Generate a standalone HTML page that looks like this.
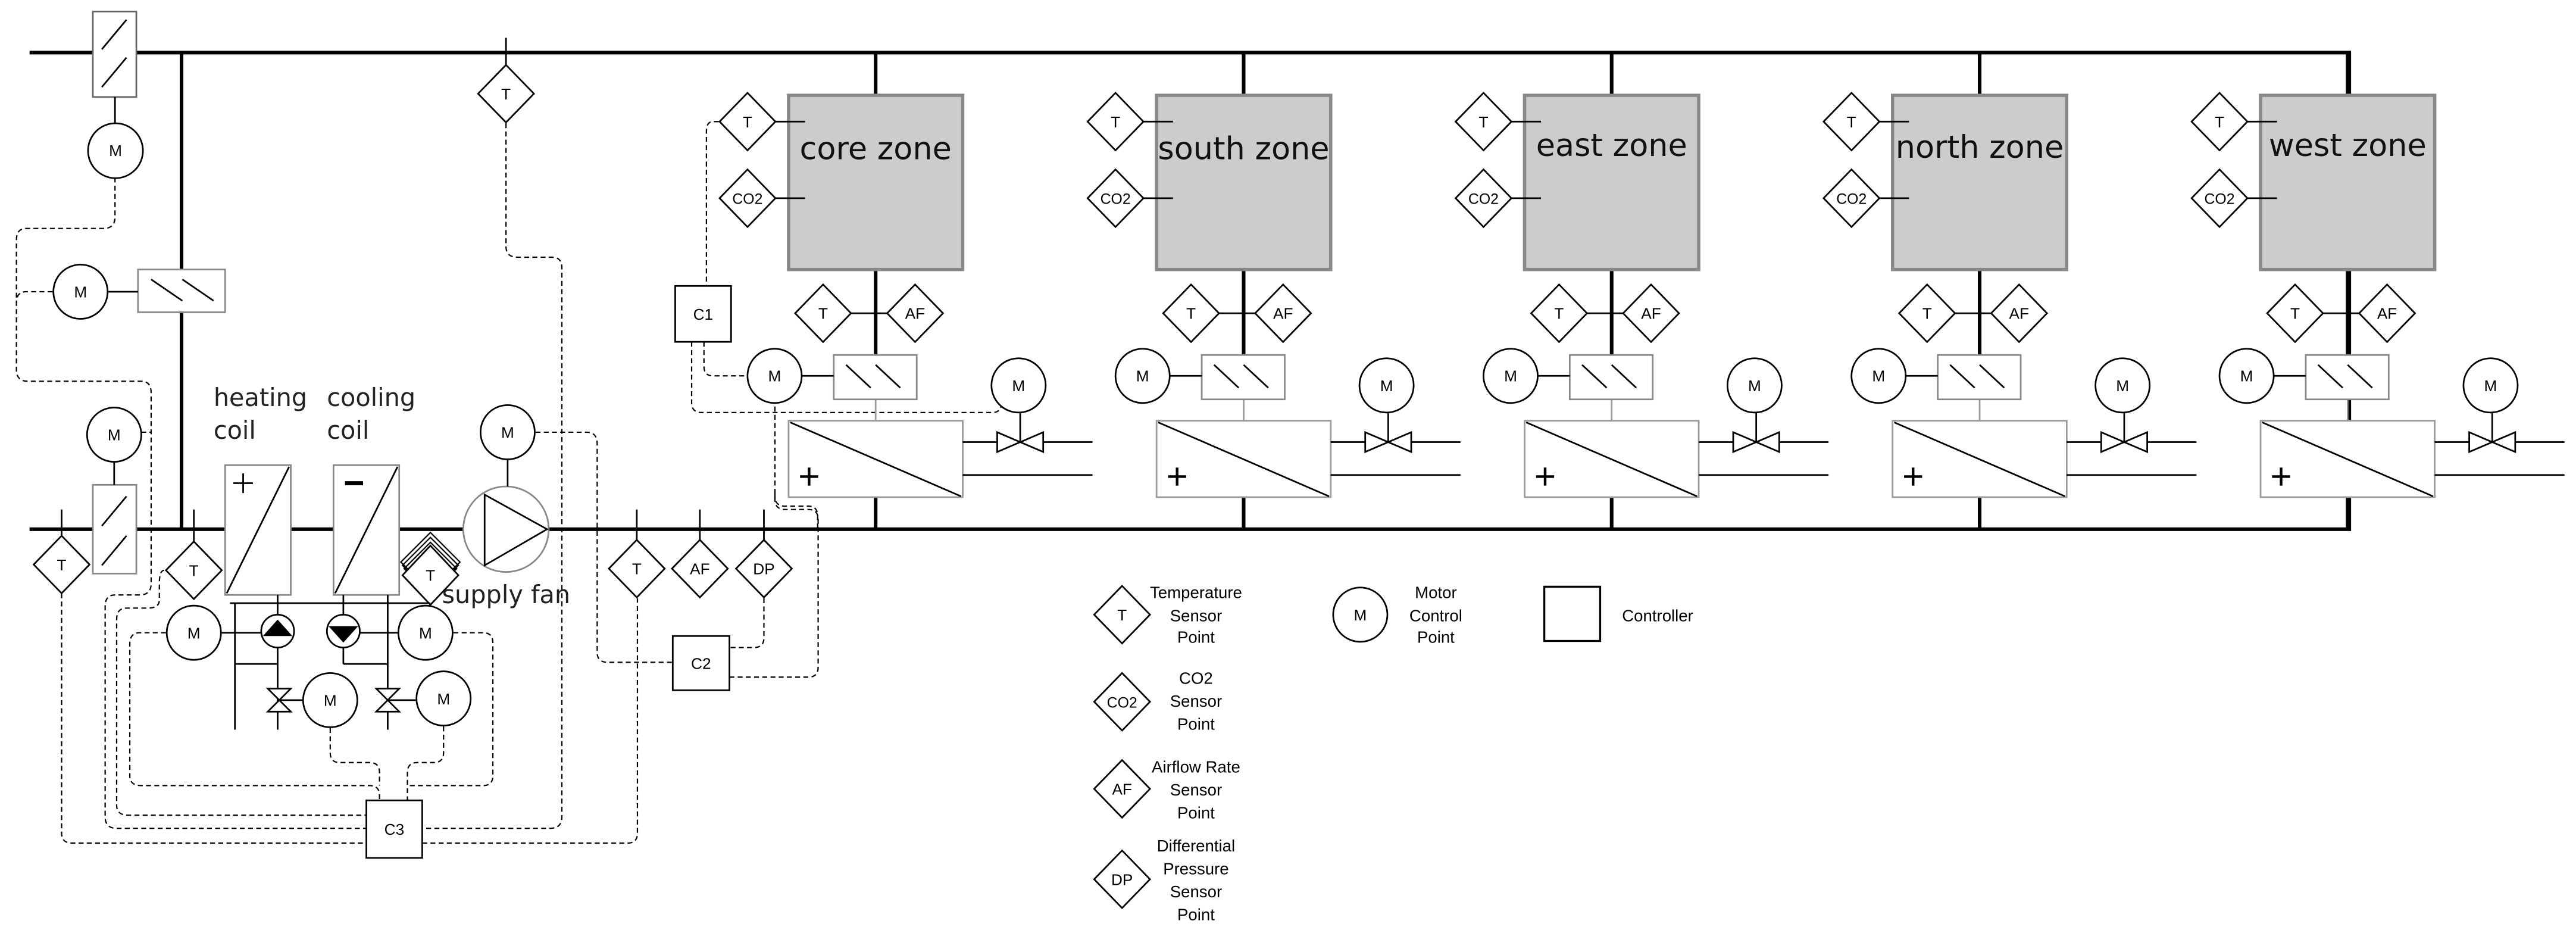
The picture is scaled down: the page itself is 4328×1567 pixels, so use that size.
<!DOCTYPE html>
<html><head><meta charset="utf-8"><style>html,body{margin:0;padding:0;background:#fff}svg{display:block}</style></head>
<body>
<svg xmlns="http://www.w3.org/2000/svg" width="4328" height="1567" viewBox="0 0 1568 567.7" preserveAspectRatio="none">
<defs>
<g id="dia"><polygon points="0,-17.5 17,0 0,17.5 -17,0" fill="#fff" stroke="#000" stroke-width="1"/></g>
</defs>
<style>
text{font-family:"Liberation Sans",sans-serif;fill:#000}
.s{font-size:9.5px;text-anchor:middle}
.z{font-family:"DejaVu Sans","Liberation Sans",sans-serif;font-size:19px;text-anchor:middle;fill:#111}
.d{fill:none;stroke:#000;stroke-width:0.8;stroke-dasharray:3,2}
.l{stroke:#000;fill:none;stroke-width:1}
.lg{font-family:"Liberation Sans Narrow","Liberation Sans",sans-serif;font-size:10px;text-anchor:middle}
</style>
<rect width="1568" height="568" fill="#fff"/>
<!-- ducts -->
<path d="M18,32 H1430 V322 H18" fill="none" stroke="#000" stroke-width="2.2"/>
<line x1="110.5" y1="32" x2="110.5" y2="322" stroke="#000" stroke-width="2.2"/>

<!-- dashed control lines -->
<path class="d" d="M70,108 V132 Q70,139 63,139 H16 Q10,139 10,146 V225 Q10,232 17,232 H86 Q92,232 92,239 V355 Q92,362 85,362 H70 Q64,362 64,369 V497 Q64,504 71,504 H223"/>
<path class="d" d="M32,177.5 H16 Q10,177.5 10,184"/>
<path class="d" d="M86,263 H92"/>
<path class="d" d="M100,347 Q97,347 97,355 V365 Q97,370 90,370 H77 Q71,370 71,377 V490 Q71,496 78,496 H223"/>
<path class="d" d="M101,385 H85 Q79,385 79,392 V472 Q79,478 86,478 H225 Q231,478 231,484 V487"/>
<path class="d" d="M201,443 V458 Q201,464 207,464 H225 Q231,464 231,470 V478"/>
<path class="d" d="M270,442 V458 Q270,464 264,464 H254 Q248,464 248,470 V487"/>
<path class="d" d="M276,385 H294 Q300,385 300,391 V472 Q300,478 294,478 H248"/>
<path class="d" d="M37.5,361 V507 Q37.5,513 44,513 H223 M257,513 H382 Q388,513 388,507 V364"/>
<path class="d" d="M308,75 V150 Q308,156.5 315,156.5 H336 Q342,156.5 342,163 V497 Q342,504 335,504 H257"/>
<path class="d" d="M326,263 H357 Q363.5,263 363.5,270 V397 Q363.5,403 370,403 H409"/>
<path class="d" d="M465,364 V388 Q465,394 459,394 H444"/>
<path class="d" d="M444,412 H492 Q498,412 498,406 V316 Q498,310 492,310 H478 Q471.7,310 471.7,304 V245"/>
<path class="d" d="M471.7,300 V302 Q471.7,308 478,308 H492 Q497.7,308 497.7,314 V322"/>
<path class="d" d="M437.5,74 H434 Q430,74 430,80 V174"/>
<path class="d" d="M428.5,208 V223 Q428.5,228.7 434,228.7 H455"/>
<path class="d" d="M421,208 V245 Q421,251 427,251 H604 Q609.6,251 609.6,245 V240 Q609.6,234.5 615,234.5 H603"/>

<!-- left dampers -->
<rect x="56.5" y="7" width="26.5" height="52" fill="#fff" stroke="#666" stroke-width="1"/>
<line class="l" x1="62" y1="30" x2="77" y2="12"/><line class="l" x1="62" y1="53" x2="77" y2="35"/>
<line class="l" x1="70" y1="59" x2="70" y2="75"/>
<circle cx="70.3" cy="91.7" r="16.7" fill="#fff" stroke="#000"/><text class="s" x="70.3" y="95">M</text>

<rect x="84" y="164" width="53" height="26" fill="#fff" stroke="#888" stroke-width="1"/>
<line class="l" x1="92" y1="170" x2="111" y2="183"/><line class="l" x1="111" y1="170" x2="130" y2="183"/>
<line class="l" x1="66" y1="177.5" x2="84" y2="177.5"/>
<circle cx="49" cy="177.5" r="16.5" fill="#fff" stroke="#000"/><text class="s" x="49" y="181">M</text>

<rect x="56.5" y="295" width="26.5" height="54" fill="#fff" stroke="#888" stroke-width="1"/>
<line class="l" x1="62" y1="320" x2="77" y2="302"/><line class="l" x1="62" y1="344" x2="77" y2="326"/>
<line class="l" x1="69.5" y1="281" x2="69.5" y2="295"/>
<circle cx="69.5" cy="264.5" r="16.5" fill="#fff" stroke="#000"/><text class="s" x="69.5" y="268">M</text>

<!-- left T sensors -->
<line class="l" x1="37.5" y1="310" x2="37.5" y2="326"/>
<use href="#dia" x="37.5" y="343.5"/><text class="s" x="37.5" y="347">T</text>
<line class="l" x1="118" y1="310" x2="118" y2="330"/>
<use href="#dia" x="118" y="347"/><text class="s" x="118" y="350.5">T</text>

<!-- coils -->
<text x="130" y="247" style="font-family:'DejaVu Sans',sans-serif;font-size:15px;fill:#222">heating</text>
<text x="130" y="267" style="font-family:'DejaVu Sans',sans-serif;font-size:15px;fill:#222">coil</text>
<text x="199" y="247" style="font-family:'DejaVu Sans',sans-serif;font-size:15px;fill:#222">cooling</text>
<text x="199" y="267" style="font-family:'DejaVu Sans',sans-serif;font-size:15px;fill:#222">coil</text>
<rect x="137" y="283" width="40" height="79" fill="#fff" stroke="#888" stroke-width="1"/>
<line class="l" x1="138" y1="361" x2="176" y2="284"/>
<path class="l" d="M142,294 H154 M148,288 V300" stroke-width="1.5"/>
<rect x="203" y="283" width="40" height="79" fill="#fff" stroke="#888" stroke-width="1"/>
<line class="l" x1="204" y1="361" x2="242" y2="284"/>
<line x1="210" y1="294" x2="221" y2="294" stroke="#000" stroke-width="2.5"/>

<!-- hatched T -->
<g fill="none" stroke="#000" stroke-width="0.8">
<polygon points="262,324 280,342 262,360 244,342"/>
<polygon points="262,327 279,344 262,361 245,344"/>
<polygon points="262,330 278,346 262,362 246,346"/>
</g>
<polygon points="262,332 279,350 262,368 245,350" fill="#fff" stroke="#000"/>
<text class="s" x="262" y="353.5">T</text>

<!-- supply fan -->
<circle cx="308" cy="322" r="26" fill="#fff" stroke="#888" stroke-width="1"/>
<polygon points="295,301 295,344 333,322" fill="none" stroke="#000"/>
<line class="l" x1="309" y1="280" x2="309" y2="296"/>
<circle cx="309" cy="263" r="16.5" fill="#fff" stroke="#000"/><text class="s" x="309" y="266.5">M</text>
<text x="269" y="367" style="font-family:'DejaVu Sans',sans-serif;font-size:15px;fill:#222">supply fan</text>
<line class="l" x1="308" y1="23" x2="308" y2="40"/>
<use href="#dia" x="308" y="57"/><text class="s" x="308" y="60.5">T</text>

<!-- coil piping -->
<line class="l" x1="140" y1="367" x2="262" y2="367"/>
<line class="l" x1="143" y1="367" x2="143" y2="444"/>
<line class="l" x1="169" y1="362" x2="169" y2="444"/>
<line class="l" x1="209" y1="362" x2="209" y2="404"/>
<line class="l" x1="236" y1="362" x2="236" y2="444"/>
<line class="l" x1="143" y1="404" x2="169" y2="404"/>
<line class="l" x1="209" y1="404" x2="236" y2="404"/>
<line class="l" x1="135" y1="385" x2="160" y2="385"/>
<line class="l" x1="218" y1="385" x2="243" y2="385"/>
<circle cx="169" cy="384" r="10" fill="#fff" stroke="#000"/>
<polygon points="160,387 178,387 169,377" fill="#000"/>
<circle cx="209" cy="384" r="10" fill="#fff" stroke="#000"/>
<polygon points="200,381 218,381 209,391" fill="#000"/>
<circle cx="118" cy="385" r="16.5" fill="#fff" stroke="#000"/><text class="s" x="118" y="388.5">M</text>
<circle cx="259" cy="385" r="16.5" fill="#fff" stroke="#000"/><text class="s" x="259" y="388.5">M</text>
<polygon points="163,419 177,419 163,433 177,433" fill="#fff" stroke="#000"/>
<polygon points="229,419 243,419 229,433 243,433" fill="#fff" stroke="#000"/>
<line class="l" x1="170" y1="426" x2="184" y2="426"/>
<line class="l" x1="236" y1="426" x2="253" y2="426"/>
<circle cx="201" cy="426" r="16.5" fill="#fff" stroke="#000"/><text class="s" x="201" y="429.5">M</text>
<circle cx="270" cy="425" r="16.5" fill="#fff" stroke="#000"/><text class="s" x="270" y="428.5">M</text>

<!-- supply sensors -->
<line class="l" x1="387.6" y1="310" x2="387.6" y2="330"/>
<use href="#dia" x="387.6" y="346"/><text class="s" x="387.6" y="349.5">T</text>
<line class="l" x1="426" y1="310" x2="426" y2="330"/>
<use href="#dia" x="426" y="346"/><text class="s" x="426" y="349.5">AF</text>
<line class="l" x1="465" y1="310" x2="465" y2="330"/>
<use href="#dia" x="465" y="346"/><text class="s" x="465" y="349.5">DP</text>

<!-- controllers -->
<rect x="409.5" y="387" width="34.5" height="33" fill="#fff" stroke="#000"/><text class="s" x="426.7" y="407">C2</text>
<rect x="223" y="487" width="34" height="35" fill="#fff" stroke="#000"/><text class="s" x="240" y="508">C3</text>
<rect x="411" y="174" width="34" height="34" fill="#fff" stroke="#000"/><text class="s" x="428" y="194.5">C1</text>

<!-- zones -->
<g id="zone">
<line x1="533" y1="32" x2="533" y2="58" stroke="#000" stroke-width="2.2"/>
<line x1="533" y1="164" x2="533" y2="216" stroke="#000" stroke-width="2.2"/>
<line x1="533" y1="243" x2="533" y2="256" stroke="#999" stroke-width="1"/>
<line x1="533" y1="302" x2="533" y2="322" stroke="#000" stroke-width="2.2"/>
<rect x="480" y="58" width="106" height="106" fill="#cccccc" stroke="#888" stroke-width="2"/>
<line class="l" x1="472" y1="74" x2="490" y2="74"/>
<line class="l" x1="472" y1="120.6" x2="490" y2="120.6"/>
<use href="#dia" x="455" y="74"/><text class="s" x="455" y="77.5">T</text>
<use href="#dia" x="455" y="120.6"/><text class="s" x="455" y="124" style="font-size:9px">CO2</text>
<line class="l" x1="518" y1="190.6" x2="540" y2="190.6"/>
<use href="#dia" x="501" y="190.6"/><text class="s" x="501" y="194">T</text>
<use href="#dia" x="557" y="190.6"/><text class="s" x="557" y="194">AF</text>
<rect x="507.5" y="216" width="50.5" height="27" fill="#fff" stroke="#888" stroke-width="1"/>
<line class="l" x1="515" y1="222" x2="530" y2="236"/><line class="l" x1="533" y1="222" x2="548" y2="236"/>
<line class="l" x1="488" y1="228.7" x2="507.5" y2="228.7"/>
<circle cx="471.5" cy="228.7" r="16.5" fill="#fff" stroke="#000"/><text class="s" x="471.5" y="232">M</text>
<rect x="480" y="256" width="106" height="46.5" fill="#fff" stroke="#999" stroke-width="1"/>
<line class="l" x1="481" y1="257" x2="585" y2="302"/>
<path d="M487,290 H498 M492.5,284.5 V295.5" stroke="#000" stroke-width="1.6"/>
<line class="l" x1="586" y1="269" x2="615" y2="269"/>
<line class="l" x1="628" y1="269" x2="665" y2="269"/>
<line class="l" x1="586" y1="289" x2="665" y2="289"/>
<polygon points="607,263 607,275 635,263 635,275" fill="#fff" stroke="#000"/>
<line class="l" x1="621" y1="251" x2="621" y2="269"/>
<circle cx="620" cy="234.5" r="16.5" fill="#fff" stroke="#000"/><text class="s" x="620" y="238">M</text>
</g>
<text class="z" x="533" y="97">core zone</text>
<use href="#zone" x="224"/><text class="z" x="757" y="97">south zone</text>
<use href="#zone" x="448"/><text class="z" x="981" y="95">east zone</text>
<use href="#zone" x="672"/><text class="z" x="1205" y="96">north zone</text>
<use href="#zone" x="896"/><text class="z" x="1429" y="95">west zone</text>

<!-- legend -->
<use href="#dia" x="683" y="374"/><text class="s" x="683" y="377.5">T</text>
<text class="lg" x="728" y="364">Temperature</text><text class="lg" x="728" y="378">Sensor</text><text class="lg" x="728" y="391">Point</text>
<use href="#dia" x="683" y="427"/><text class="s" x="683" y="430.5" style="font-size:9px">CO2</text>
<text class="lg" x="728" y="416">CO2</text><text class="lg" x="728" y="430">Sensor</text><text class="lg" x="728" y="444">Point</text>
<use href="#dia" x="683" y="480"/><text class="s" x="683" y="483.5">AF</text>
<text class="lg" x="728" y="470">Airflow Rate</text><text class="lg" x="728" y="484">Sensor</text><text class="lg" x="728" y="498">Point</text>
<use href="#dia" x="683" y="535"/><text class="s" x="683" y="538.5">DP</text>
<text class="lg" x="728" y="518">Differential</text><text class="lg" x="728" y="532">Pressure</text><text class="lg" x="728" y="546">Sensor</text><text class="lg" x="728" y="560">Point</text>
<circle cx="828" cy="374" r="16.5" fill="#fff" stroke="#000"/><text class="s" x="828" y="377.5">M</text>
<text class="lg" x="874" y="364">Motor</text><text class="lg" x="874" y="378">Control</text><text class="lg" x="874" y="391">Point</text>
<rect x="940" y="357" width="34" height="33" fill="#fff" stroke="#000" stroke-width="1.2"/>
<text class="lg" x="1009" y="378">Controller</text>
</svg>
</body></html>
